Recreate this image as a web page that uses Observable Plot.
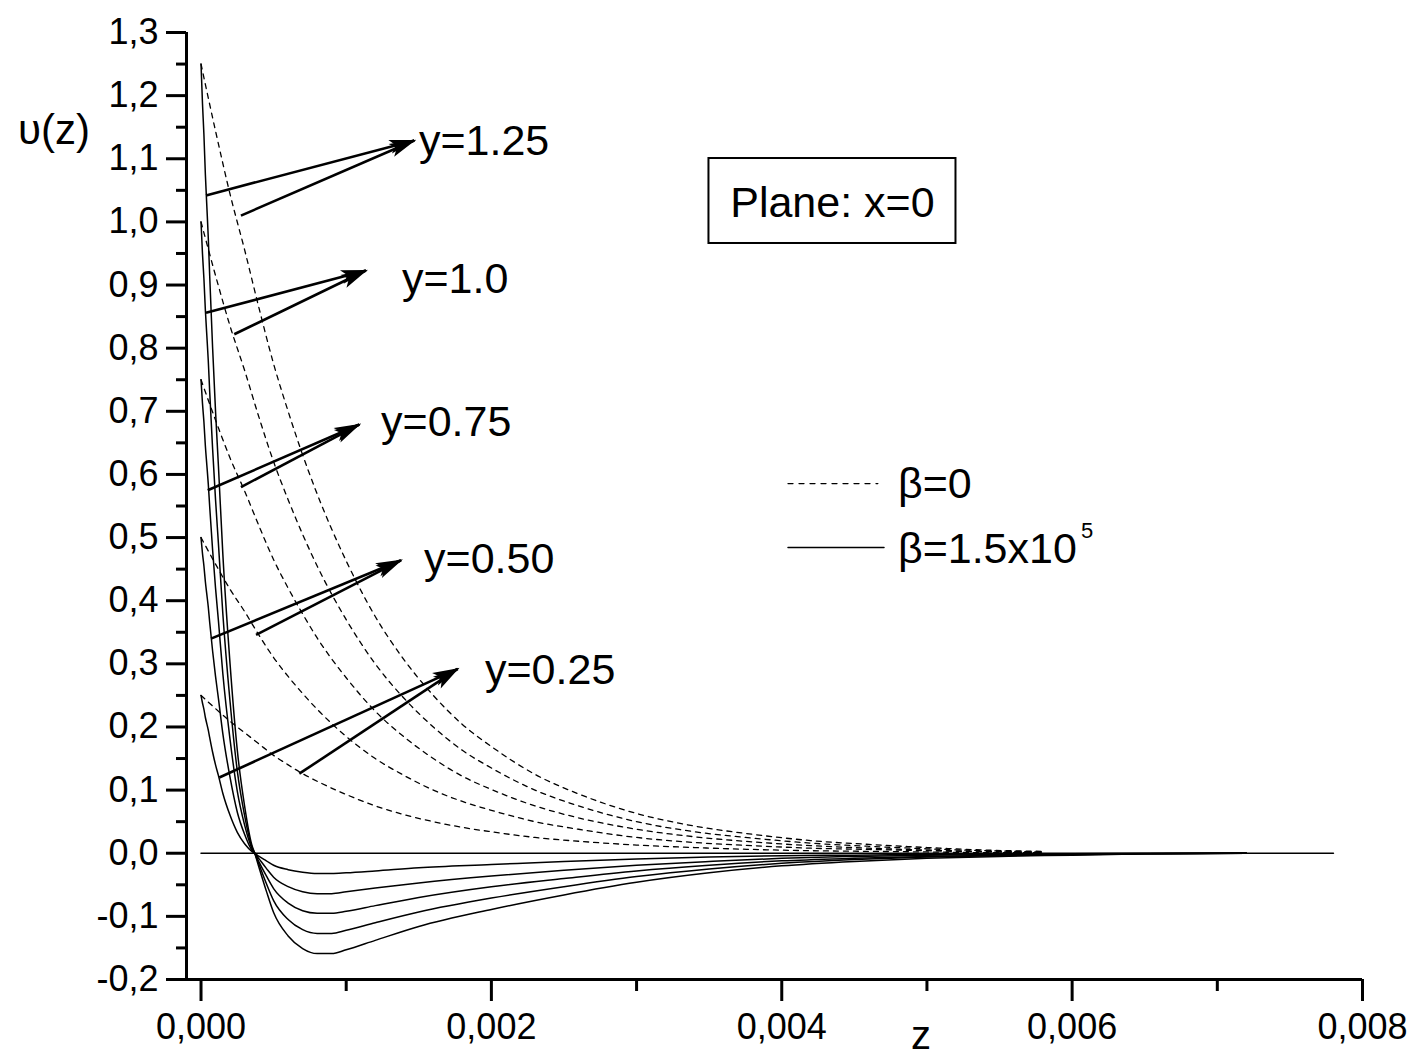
<!DOCTYPE html>
<html><head><meta charset="utf-8">
<script src="https://cdn.jsdelivr.net/npm/d3@7"></script>
<script src="https://cdn.jsdelivr.net/npm/@observablehq/plot@0.6"></script>
<style>html,body{margin:0;padding:0;background:#fff;} svg{display:block;}</style>
</head><body><div id="chart"></div><script>
// ---- data ----
// beta = 0 (dashed)
const zDashed = [0, 0.0001, 0.0002, 0.0003, 0.0004, 0.0005, 0.0006, 0.0007, 0.0008, 0.001, 0.0012, 0.0014, 0.0016, 0.0018, 0.002, 0.0023, 0.0026, 0.003, 0.0034, 0.0038, 0.0042, 0.0046, 0.005, 0.0054, 0.0058];
const dashed125 = [1.250, 1.144, 1.044, 0.956, 0.863, 0.775, 0.700, 0.631, 0.569, 0.463, 0.375, 0.306, 0.250, 0.204, 0.169, 0.125, 0.094, 0.063, 0.043, 0.030, 0.020, 0.014, 0.009, 0.005, 0.003];
const dashed100 = [1.000, 0.915, 0.835, 0.765, 0.690, 0.620, 0.560, 0.505, 0.455, 0.370, 0.300, 0.245, 0.200, 0.163, 0.135, 0.100, 0.075, 0.050, 0.034, 0.024, 0.016, 0.011, 0.007, 0.004, 0.002];
const dashed075 = [0.750, 0.686, 0.626, 0.574, 0.518, 0.465, 0.420, 0.379, 0.341, 0.278, 0.225, 0.184, 0.150, 0.122, 0.101, 0.075, 0.056, 0.038, 0.026, 0.018, 0.012, 0.008, 0.005, 0.003, 0.002];
const dashed050 = [0.500, 0.458, 0.418, 0.383, 0.345, 0.310, 0.280, 0.253, 0.228, 0.185, 0.150, 0.123, 0.100, 0.082, 0.068, 0.050, 0.038, 0.025, 0.017, 0.012, 0.008, 0.006, 0.004, 0.002, 0.001];
const dashed025 = [0.250, 0.229, 0.209, 0.191, 0.173, 0.155, 0.140, 0.126, 0.114, 0.093, 0.075, 0.061, 0.050, 0.041, 0.034, 0.025, 0.019, 0.013, 0.009, 0.006, 0.004, 0.003, 0.002, 0.001, 0.001];

// beta = 1.5x10^5 (solid)
const zSolid = [0, 0.00001, 0.00002, 0.00003, 0.00004, 0.00005, 0.00006, 0.00008, 0.0001, 0.00012, 0.00015, 0.0002, 0.00025, 0.0003, 0.00035, 0.00037, 0.0004, 0.00045, 0.0005, 0.0006, 0.0007, 0.0008, 0.0009, 0.001, 0.0012, 0.0015, 0.002, 0.0025, 0.003, 0.0035, 0.004, 0.0045, 0.005, 0.0055, 0.006, 0.0065, 0.0072];
const solid125 = [1.250, 1.188, 1.138, 1.075, 1.025, 0.975, 0.913, 0.800, 0.700, 0.613, 0.475, 0.300, 0.163, 0.075, 0.013, 0.000, -0.023, -0.060, -0.094, -0.131, -0.151, -0.159, -0.159, -0.153, -0.138, -0.116, -0.089, -0.066, -0.046, -0.031, -0.020, -0.013, -0.008, -0.005, -0.003, -0.001, 0.000];
const solid100 = [1.000, 0.950, 0.910, 0.860, 0.820, 0.780, 0.730, 0.640, 0.560, 0.490, 0.380, 0.240, 0.130, 0.060, 0.010, 0.000, -0.018, -0.048, -0.075, -0.105, -0.121, -0.127, -0.127, -0.122, -0.110, -0.093, -0.071, -0.053, -0.037, -0.025, -0.016, -0.010, -0.006, -0.004, -0.002, -0.001, 0.000];
const solid075 = [0.750, 0.713, 0.683, 0.645, 0.615, 0.585, 0.548, 0.480, 0.420, 0.368, 0.285, 0.180, 0.098, 0.045, 0.008, 0.000, -0.014, -0.036, -0.056, -0.079, -0.091, -0.095, -0.095, -0.092, -0.083, -0.070, -0.053, -0.040, -0.028, -0.019, -0.012, -0.008, -0.005, -0.003, -0.002, -0.001, 0.000];
const solid050 = [0.500, 0.475, 0.455, 0.430, 0.410, 0.390, 0.365, 0.320, 0.280, 0.245, 0.190, 0.120, 0.065, 0.030, 0.005, 0.000, -0.009, -0.024, -0.038, -0.053, -0.061, -0.064, -0.064, -0.061, -0.055, -0.047, -0.036, -0.027, -0.019, -0.013, -0.008, -0.005, -0.003, -0.002, -0.001, -0.001, 0.000];
const solid025 = [0.250, 0.238, 0.228, 0.215, 0.205, 0.195, 0.183, 0.160, 0.140, 0.123, 0.095, 0.060, 0.033, 0.015, 0.003, 0.000, -0.005, -0.012, -0.019, -0.026, -0.030, -0.032, -0.032, -0.031, -0.028, -0.023, -0.018, -0.013, -0.009, -0.006, -0.004, -0.003, -0.002, -0.001, -0.001, 0.000, 0.000];

const zZero = [0, 0.0078];
const vZero = [0, 0];

// curve labels and arrows (tails on solid and dashed curve, common tip)
const labelText = ["y=1.25", "y=1.0", "y=0.75", "y=0.50", "y=0.25"];
const labelZ = [0.001501, 0.001384, 0.001240, 0.001536, 0.001956];
const labelV = [1.128, 0.909, 0.683, 0.466, 0.290];
const arrowTipZ = [0.001469, 0.001136, 0.001090, 0.001377, 0.001768];
const arrowTipV = [1.129, 0.923, 0.679, 0.464, 0.292];
const arrowSolidZ = [0.0000344, 0.0000344, 0.0000461, 0.0000689, 0.000126];
const arrowSolidV = [1.042, 0.856, 0.575, 0.340, 0.120];
const arrowDashZ = [0.000275, 0.000229, 0.000275, 0.000379, 0.000677];
const arrowDashV = [1.010, 0.822, 0.580, 0.346, 0.126];

// ticks
const yTicks = [-0.2, -0.1, 0, 0.1, 0.2, 0.3, 0.4, 0.5, 0.6, 0.7, 0.8, 0.9, 1.0, 1.1, 1.2, 1.3];
const yMinor = [-0.15, -0.05, 0.05, 0.15, 0.25, 0.35, 0.45, 0.55, 0.65, 0.75, 0.85, 0.95, 1.05, 1.15, 1.25];
const xTicks = [0, 0.002, 0.004, 0.006, 0.008];
const xMinor = [0.001, 0.003, 0.005, 0.007];

// ---- build tables ----
const dashedSeries = [dashed125, dashed100, dashed075, dashed050, dashed025];
const solidSeries = [solid125, solid100, solid075, solid050, solid025];
const dashedRows = dashedSeries.flatMap((s, k) => s.map((v, i) => ({series: k, z: zDashed[i], v})));
const solidRows = solidSeries.flatMap((s, k) => s.map((v, i) => ({series: k, z: zSolid[i], v})));
const zeroRows = zZero.map((z, i) => ({z, v: vZero[i]}));
const labels = labelText.map((t, i) => ({t, z: labelZ[i], v: labelV[i]}));
const arrows = labelText.flatMap((t, i) => [
  {z1: arrowSolidZ[i], v1: arrowSolidV[i], z2: arrowTipZ[i], v2: arrowTipV[i]},
  {z1: arrowDashZ[i], v1: arrowDashV[i], z2: arrowTipZ[i], v2: arrowTipV[i]}
]);

function solidHead(color) {
  const ns = "http://www.w3.org/2000/svg";
  const m = document.createElementNS(ns, "marker");
  m.setAttribute("viewBox", "-28 -8 30 16");
  m.setAttribute("markerWidth", 30);
  m.setAttribute("markerHeight", 16);
  m.setAttribute("markerUnits", "userSpaceOnUse");
  m.setAttribute("orient", "auto");
  m.setAttribute("overflow", "visible");
  const p = document.createElementNS(ns, "path");
  p.setAttribute("d", "M2,0L-25,-7L-19,0L-25,7Z");
  p.setAttribute("fill", "black");
  p.setAttribute("stroke", "none");
  m.appendChild(p);
  return m;
}

const fmtY = d => (d < 0 ? "-" : "") + Math.abs(d).toFixed(1).replace(".", ",");
const fmtX = d => d.toFixed(3).replace(".", ",");

const font = "'Liberation Sans', Arial, sans-serif";

const chart = Plot.plot({
  width: 1414,
  height: 1059,
  marginLeft: 186,
  marginRight: 52,
  marginTop: 32,
  marginBottom: 80,
  x: {domain: [-0.0001, 0.008]},
  y: {domain: [-0.2, 1.3]},
  style: {fontFamily: font, background: "white", color: "black", overflow: "visible"},
  marks: [
    // axes
    Plot.axisY({ticks: yTicks, tickSize: 20, tickPadding: 8, tickFormat: fmtY, fontSize: 36, strokeWidth: 3, label: null}),
    Plot.axisY({ticks: yMinor, tickSize: 10, tickFormat: () => "", strokeWidth: 3, label: null}),
    Plot.axisX({ticks: xTicks, tickSize: 22, tickPadding: 12, tickFormat: fmtX, fontSize: 36, strokeWidth: 3, label: null}),
    Plot.axisX({ticks: xMinor, tickSize: 12, tickFormat: () => "", strokeWidth: 3, label: null}),
    Plot.ruleX([-0.0001], {y1: -0.2, y2: 1.3, strokeWidth: 3}),
    Plot.ruleY([-0.2], {x1: -0.0001, x2: 0.008, strokeWidth: 3}),
    // curves
    Plot.line(zeroRows, {x: "z", y: "v", stroke: "black", strokeWidth: 1.5}),
    Plot.line(dashedRows, {x: "z", y: "v", z: "series", stroke: "black", strokeWidth: 1.3, strokeDasharray: "5,5", curve: "monotone-x"}),
    Plot.line(solidRows, {x: "z", y: "v", z: "series", stroke: "black", strokeWidth: 1.5, curve: "monotone-x"}),
    // arrows
    Plot.link(arrows, {x1: "z1", y1: "v1", x2: "z2", y2: "v2", stroke: "black", strokeWidth: 2.6, markerEnd: solidHead}),
    // curve labels
    Plot.text(labels, {x: "z", y: "v", text: "t", textAnchor: "start", fontSize: 43}),
    // Plane box
    Plot.rect([{z1: 0.0034986, z2: 0.0052, v1: 0.9658, v2: 1.1004}], {x1: "z1", x2: "z2", y1: "v1", y2: "v2", fill: "white", stroke: "black", strokeWidth: 2}),
    Plot.text(["Plane: x=0"], {x: 0.004349, y: 1.029, fontSize: 43, textAnchor: "middle"}),
    // legend
    Plot.line([{z: 0.004043, v: 0.5856}, {z: 0.004662, v: 0.5856}], {x: "z", y: "v", stroke: "black", strokeWidth: 1.3, strokeDasharray: "5,6"}),
    Plot.line([{z: 0.004043, v: 0.4843}, {z: 0.004704, v: 0.4843}], {x: "z", y: "v", stroke: "black", strokeWidth: 1.5}),
    Plot.text(["β=0"], {x: 0.0048, y: 0.5837, fontSize: 43, textAnchor: "start"}),
    Plot.text(["β=1.5x10"], {x: 0.0048, y: 0.4823, fontSize: 43, textAnchor: "start"}),
    Plot.text(["5"], {x: 0.006061, y: 0.5112, fontSize: 22, textAnchor: "start"}),
    // axis titles
    Plot.text(["υ(z)"], {x: -0.001012, y: 1.145, fontSize: 42, textAnchor: "middle"}),
    Plot.text(["z"], {x: 0.004959, y: -0.2905, fontSize: 40, textAnchor: "middle"})
  ]
});
document.getElementById("chart").appendChild(chart);
</script></body></html>
